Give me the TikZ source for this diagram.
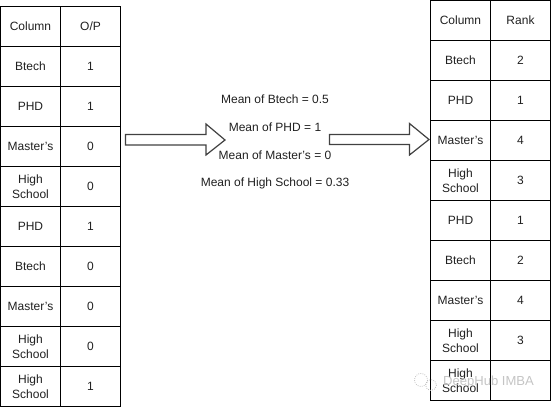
\documentclass[tikz,border=0pt]{standalone}
\usepackage{fontspec}
\setmainfont{Liberation Sans}
\newcommand{\aposq}{\char39\relax}
\definecolor{ink}{RGB}{32,32,32}
\definecolor{mark}{RGB}{190,190,190}
\tikzset{
  x=0.75pt,y=-0.75pt,
  cellbox/.style={draw=black,line width=0.75pt,minimum width=45pt,minimum height=30pt,inner sep=0pt,align=center,text width=43pt,font=\fontsize{9}{11.5}\selectfont,text=ink},
  meantext/.style={font=\fontsize{9}{11}\selectfont,text=ink,inner sep=0pt},
  blockarrow/.style={draw=ink!85,line width=0.9pt,line join=miter,fill=white},
  wmtext/.style={font=\fontsize{9.8}{11}\selectfont,text=mark,inner sep=0pt,opacity=.9},
  wmicon/.style={draw=mark,line width=0.6pt,densely dotted}
}
\begin{document}
\begin{tikzpicture}
\useasboundingbox (0,0) rectangle (551,407);
% left table
\foreach \i/\a/\b in {0/Column/O\slash P,1/Btech/1,2/PHD/1,3/Master\aposq s/0,4/High\\School/0,5/PHD/1,6/Btech/0,7/Master\aposq s/0,8/High\\School/0,9/High\\School/1}{
  \node[cellbox] (la\i) at (30.5,{26.5+40*\i}) {\a};
  \node[cellbox] (lb\i) at (90.5,{26.5+40*\i}) {\b};
}
% right table
\foreach \i/\a/\b in {0/Column/Rank,1/Btech/2,2/PHD/1,3/Master\aposq s/4,4/High\\School/3,5/PHD/1,6/Btech/2,7/Master\aposq s/4,8/High\\School/3,9/High\\School/{}}{
  \node[cellbox] (ra\i) at (460.5,{20.5+40*\i}) {\a};
  \node[cellbox] (rb\i) at (520.5,{20.5+40*\i}) {\b};
}
% arrows
\draw[blockarrow] (125.5,134.5) -- (206,134.5) -- (206,124) -- (225,140) -- (206,155) -- (206,145) -- (125.5,145) -- cycle;
\draw[blockarrow] (329.5,134.5) -- (409.5,134.5) -- (409.5,123.5) -- (429,139.5) -- (409.5,155) -- (409.5,144.5) -- (329.5,144.5) -- cycle;
% means
\node[meantext] (m1) at (275,99) {Mean of Btech = 0.5};
\node[meantext] (m2) at (275,127) {Mean of PHD = 1};
\node[meantext] (m3) at (275,155) {Mean of Master\aposq s = 0};
\node[meantext] (m4) at (275,183) {Mean of High School = 0.33};
% watermark
\draw[wmicon] (421,380) circle (6.5);
\draw[wmicon] (431,385) circle (5.5);
\node[wmtext] (wm) at (488.5,382) {DeepHub IMBA};
\end{tikzpicture}
\end{document}
